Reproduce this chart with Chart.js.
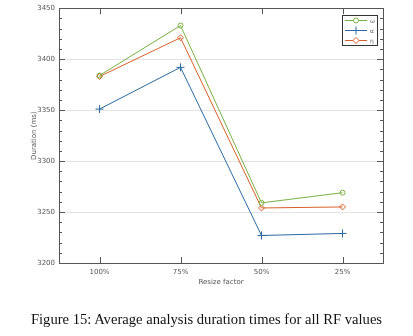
<!DOCTYPE html>
<html>
<head>
<meta charset="utf-8">
<script src="https://cdn.jsdelivr.net/npm/chart.js@4"></script>
<style>
  html, body { margin: 0; padding: 0; background: #fff; }
  #wrap { position: relative; width: 413px; height: 336px; }
  #caption {
    position: absolute; left: 0; width: 413px; top: 311px;
    text-align: center; font-family: "Liberation Serif", serif; font-size: 14.6px; color: #111;
  }
</style>
</head>
<body>
<div id="wrap">
  <canvas id="c" width="413" height="336"></canvas>
  <div id="caption">Figure 15: Average analysis duration times for all RF values</div>
</div>
<script>
const categories = ["100%", "75%", "50%", "25%"];
const omegaValues = [3384, 3433, 3259, 3269];
const alphaValues = [3351, 3392, 3227, 3229];
const etaValues = [3383, 3421, 3254, 3255];
const seriesNames = ["ω", "α", "η"];

const GREEN = "#79b043";
const BLUE = "#2a6aa0";
const ORANGE = "#d8602a";
const AXIS = "#555";

// box, inward tick marks and legend
const frame = {
  id: "frame",
  afterDraw(chart) {
    const { ctx, chartArea: a, scales } = chart;
    ctx.save();
    ctx.strokeStyle = AXIS;
    ctx.lineWidth = 1;
    ctx.strokeRect(Math.round(a.left) + 0.5, Math.round(a.top) + 0.5,
      Math.round(a.right - a.left), Math.round(a.bottom - a.top));
    ctx.beginPath();
    const y = scales.y;
    for (let v = y.min; v <= y.max; v += 10) {
      const py = Math.round(y.getPixelForValue(v)) + 0.5;
      const len = v % 50 === 0 ? 6 : 3;
      ctx.moveTo(a.left, py); ctx.lineTo(a.left + len, py);
      ctx.moveTo(a.right, py); ctx.lineTo(a.right - len, py);
    }
    const x = scales.x;
    categories.forEach((_, i) => {
      const px = Math.round(x.getPixelForValue(i)) + 0.5;
      ctx.moveTo(px, a.top); ctx.lineTo(px, a.top + 6);
      ctx.moveTo(px, a.bottom); ctx.lineTo(px, a.bottom - 6);
    });
    ctx.stroke();

    // legend
    const lx = 342, ly = 15, lw = 35, lh = 30;
    ctx.fillStyle = "#fff";
    ctx.fillRect(lx, ly, lw, lh);
    ctx.strokeStyle = "#333";
    ctx.strokeRect(lx + 0.5, ly + 0.5, lw, lh);
    chart.data.datasets.forEach((ds, i) => {
      const ry = ly + 5.5 + i * 10;
      ctx.strokeStyle = ds.borderColor;
      ctx.beginPath();
      ctx.moveTo(lx + 3, ry); ctx.lineTo(lx + 25, ry);
      ctx.stroke();
      ctx.fillStyle = "#fff";
      Chart.helpers.drawPoint(ctx, {
        pointStyle: ds.pointStyle, radius: ds.pointRadius, borderWidth: 1
      }, lx + 14, ry);
      ctx.fillStyle = "#666";
      ctx.font = "6px 'DejaVu Sans'";
      ctx.textBaseline = "middle";
      ctx.fillText(ds.label, lx + 28, ry + 1);
    });
    ctx.restore();
  }
};

function ds(label, data, color, style, r) {
  return {
    label, data,
    borderColor: color, backgroundColor: "#fff",
    pointBorderColor: color, pointBackgroundColor: "rgba(255,255,255,0)",
    pointStyle: style, pointRadius: r, pointBorderWidth: 1,
    borderWidth: 1, tension: 0
  };
}

new Chart(document.getElementById("c"), {
  type: "line",
  data: {
    labels: categories,
    datasets: [
      ds(seriesNames[0], omegaValues, GREEN, "circle", 2.5),
      ds(seriesNames[1], alphaValues, BLUE, "cross", 4),
      ds(seriesNames[2], etaValues, ORANGE, "rectRot", 3)
    ]
  },
  options: {
    responsive: false,
    animation: false,
    layout: { padding: { left: 0, right: 30, top: 8, bottom: 43 } },
    plugins: { legend: { display: false }, tooltip: { enabled: false } },
    scales: {
      x: {
        offset: true,
        grid: { display: false, drawTicks: false },
        border: { display: false },
        ticks: { color: AXIS, font: { size: 7, family: "DejaVu Sans" }, padding: 5 },
        title: { display: true, text: "Resize factor", color: AXIS,
          font: { size: 7, family: "DejaVu Sans" }, padding: { top: 0, bottom: 7 } },
        afterFit(s) { s.height = 30; }
      },
      y: {
        min: 3200, max: 3450,
        grid: { color: "#e4e4e4", drawTicks: false },
        border: { display: false },
        ticks: { stepSize: 50, color: AXIS, font: { size: 7, family: "DejaVu Sans" }, padding: 4,
          callback: (v) => String(v) },
        title: { display: true, text: "Duration (ms)", color: AXIS,
          font: { size: 7, family: "DejaVu Sans" }, padding: { top: 30, bottom: 0 } },
        afterFit(s) { s.width = 59; }
      }
    }
  },
  plugins: [frame]
});
</script>
</body>
</html>
